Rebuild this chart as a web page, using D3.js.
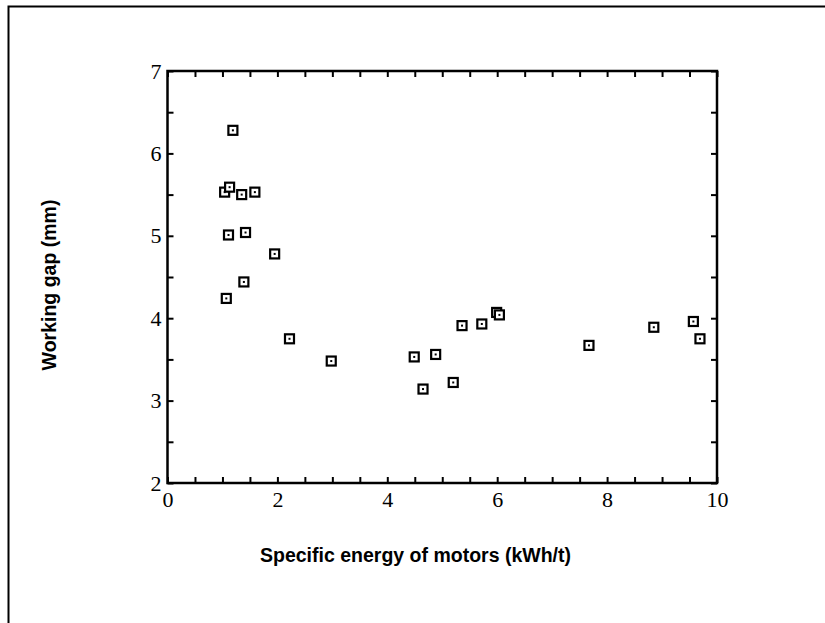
<!DOCTYPE html>
<html>
<head>
<meta charset="utf-8">
<script src="https://cdn.jsdelivr.net/npm/d3@7"></script>
<style>
  body { margin: 0; background: #fff; }
</style>
</head>
<body>
<svg id="chart" width="825" height="623"></svg>
<script>
// specific energy (kWh/t) vs working gap (mm)
const energy = [1.19, 1.04, 1.13, 1.35, 1.59, 1.11, 1.42, 1.95, 1.39, 1.07,
                2.22, 2.98, 4.49, 4.88, 4.65, 5.20, 5.36, 5.72, 5.99, 6.04,
                7.67, 8.85, 9.57, 9.69];
const gap    = [6.28, 5.53, 5.59, 5.50, 5.53, 5.01, 5.04, 4.78, 4.44, 4.24,
                3.75, 3.48, 3.53, 3.56, 3.14, 3.22, 3.91, 3.93, 4.07, 4.04,
                3.67, 3.89, 3.96, 3.75];
const xTicks = d3.range(0, 10.01, 0.5);
const yTicks = d3.range(2, 7.01, 0.5);
const xLabels = [0, 2, 4, 6, 8, 10];
const yLabels = [2, 3, 4, 5, 6, 7];
const xTitle = 'Specific energy of motors (kWh/t)';
const yTitle = 'Working gap (mm)';

const svg = d3.select('#chart');

// outer frame, runs off the right and bottom edges
svg.append('path')
  .attr('d', 'M8.5,640 V6.5 H840')
  .attr('fill', 'none')
  .attr('stroke', '#000')
  .attr('stroke-width', 2);

const margin = { top: 71, right: 108, bottom: 140, left: 167.5 };
const width = +svg.attr('width');
const innerWidth = width - margin.left - margin.right;
const innerHeight = 483 - margin.top;

const g = svg.append('g')
  .attr('transform', `translate(${margin.left}, ${margin.top})`);

const xScale = d3.scaleLinear().domain([0, 10]).range([0, innerWidth]);
const yScale = d3.scaleLinear().domain([2, 7]).range([innerHeight, 0]);

const tickLen = 6;
const fmt = labels => d => labels.includes(d) ? d : '';

const styleAxis = AxisG => {
  AxisG.select('.domain').remove();
  AxisG.selectAll('line')
    .attr('stroke', '#000')
    .attr('stroke-width', 2);
  // drop the empty labels of the minor ticks
  AxisG.selectAll('text').filter(function() { return this.textContent === ''; }).remove();
  AxisG.selectAll('text')
    .attr('font-family', '"Liberation Serif", "Times New Roman", serif')
    .attr('font-size', 22)
    .attr('fill', '#000');
}

g.append('g')
  .attr('transform', `translate(0, ${innerHeight})`)
  .call(d3.axisBottom(xScale).tickValues(xTicks)
    .tickSizeInner(-tickLen).tickSizeOuter(0).tickPadding(8)
    .tickFormat(fmt(xLabels)))
  .call(styleAxis);

g.append('g')
  .call(d3.axisTop(xScale).tickValues(xTicks)
    .tickSizeInner(-tickLen).tickSizeOuter(0).tickFormat(''))
  .call(styleAxis);

g.append('g')
  .call(d3.axisLeft(yScale).tickValues(yTicks)
    .tickSizeInner(-tickLen).tickSizeOuter(0).tickPadding(6)
    .tickFormat(fmt(yLabels)))
  .call(styleAxis);

g.append('g')
  .attr('transform', `translate(${innerWidth}, 0)`)
  .call(d3.axisRight(yScale).tickValues(yTicks)
    .tickSizeInner(-tickLen).tickSizeOuter(0).tickFormat(''))
  .call(styleAxis);

// plot frame
g.append('rect')
  .attr('width', innerWidth)
  .attr('height', innerHeight)
  .attr('fill', 'none')
  .attr('stroke', '#000')
  .attr('stroke-width', 2.5);

const points = energy.map((e, i) => [e, gap[i]]);

const marks = g.selectAll('.pt').data(points)
  .enter().append('g')
    .attr('class', 'pt')
    .attr('transform', d => `translate(${xScale(d[0])}, ${yScale(d[1])})`);

marks.append('rect')
  .attr('x', -4.5).attr('y', -4.5)
  .attr('width', 9).attr('height', 9)
  .attr('fill', '#fff')
  .attr('stroke', '#000')
  .attr('stroke-width', 2.2);

marks.append('rect')
  .attr('x', -1).attr('y', -1)
  .attr('width', 2).attr('height', 2)
  .attr('fill', '#000');

svg.append('text')
  .attr('x', 415.5)
  .attr('y', 562)
  .attr('text-anchor', 'middle')
  .attr('font-family', '"Liberation Sans", Arial, sans-serif')
  .attr('font-weight', 'bold')
  .attr('font-size', 19.5)
  .text(xTitle);

svg.append('text')
  .attr('transform', `translate(56, 285) rotate(-90)`)
  .attr('text-anchor', 'middle')
  .attr('font-family', '"Liberation Sans", Arial, sans-serif')
  .attr('font-weight', 'bold')
  .attr('font-size', 19.5)
  .text(yTitle);
</script>
</body>
</html>
